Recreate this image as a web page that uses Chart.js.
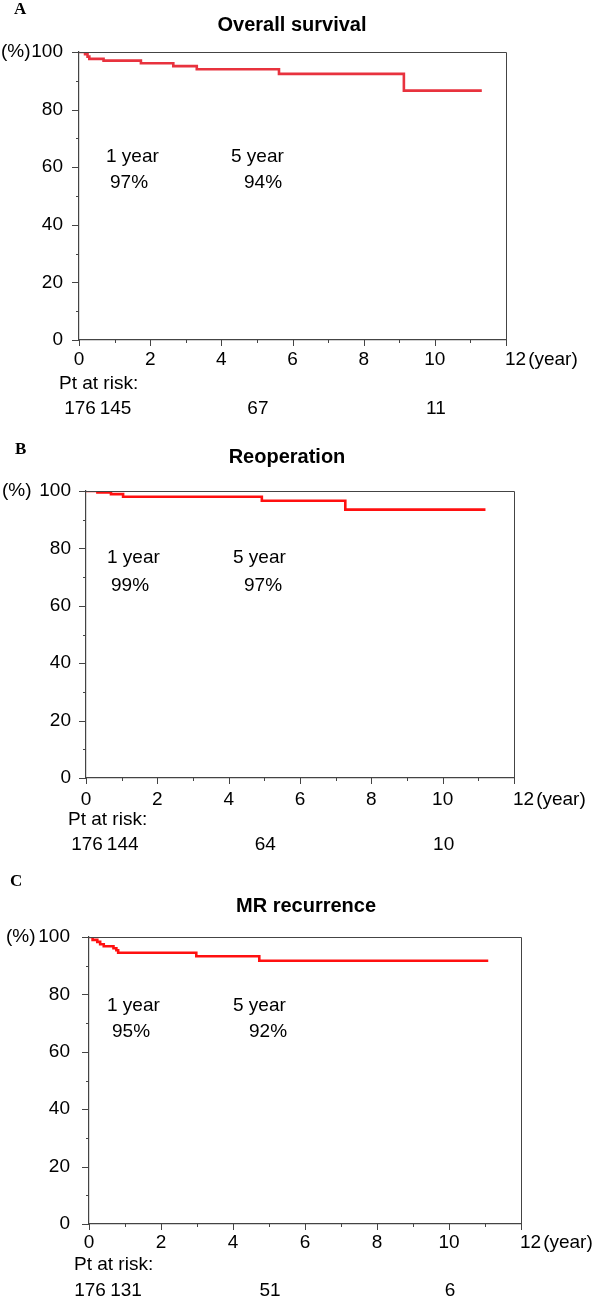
<!DOCTYPE html>
<html>
<head>
<meta charset="utf-8">
<title>Kaplan-Meier curves</title>
<script src="https://cdn.jsdelivr.net/npm/chart.js@4.4.1/dist/chart.umd.min.js"></script>
<style>
  body { margin: 0; background: #fff; }
  canvas { position: absolute; left: 0; }
</style>
</head>
<body>
<canvas id="chartA" width="597" height="435" style="top:0px"></canvas>
<canvas id="chartB" width="597" height="435" style="top:435px"></canvas>
<canvas id="chartC" width="597" height="430" style="top:870px"></canvas>

<script>
// A - overall survival (years, % surviving)
const osYears = [0, 0.17, 0.24, 0.29, 0.69, 1.74, 2.65, 3.31, 5.62, 9.13, 11.32];
const osPct   = [100, 99.2, 98.4, 97.6, 97.0, 96.1, 95.1, 94.0, 92.4, 86.6, 86.6];
const osRisk  = [176, 145, 67, 11];
const osRates = ['97%', '94%'];

// B - freedom from reoperation
const reopYears = [0, 0.32, 0.70, 1.04, 4.93, 7.27, 11.2];
const reopPct   = [100, 99.5, 98.9, 98.0, 96.6, 93.5, 93.5];
const reopRisk  = [176, 144, 64, 10];
const reopRates = ['99%', '97%'];

// C - freedom from MR recurrence
const mrYears = [0, 0.10, 0.23, 0.31, 0.41, 0.68, 0.76, 0.81, 2.98, 4.73, 11.09];
const mrPct   = [100, 99.0, 98.3, 97.5, 96.8, 96.1, 95.4, 94.5, 93.3, 91.7, 91.7];
const mrRisk  = [176, 131, 51, 6];
const mrRates = ['95%', '92%'];

const riskYears = [0, 1, 5, 10];
const landmarks = ['1 year', '5 year'];
const yTicks = [0, 20, 40, 60, 80, 100];
const xTicks = [0, 2, 4, 6, 8, 10, 12];

const FONT = '"Liberation Sans", Arial, Helvetica, sans-serif';
const AXIS = '#444';
const INK = '#000';

Chart.defaults.font.family = FONT;
Chart.defaults.font.size = 19;
Chart.defaults.color = INK;

const panels = [
  { id: 'chartA', h: 435, letter: 'A', title: 'Overall survival', color: '#e8323e',
    years: osYears, pct: osPct, risk: osRisk, rates: osRates,
    area: { left: 79, right: 506, top: 52, bottom: 340 },
    letterX: 14, letterY: 10, titleX: 292, titleY: 25, pctX: 1, yPad: 9, xPad: 1,
    note1X: 106, note1bX: 110, note5X: 231, note5bX: 244, noteY: 157, noteBY: 183,
    ptX: 59, ptY: 384, riskY: 409 },
  { id: 'chartB', h: 435, letter: 'B', title: 'Reoperation', color: '#ff1010',
    years: reopYears, pct: reopPct, risk: reopRisk, rates: reopRates,
    area: { left: 86, right: 514, top: 56, bottom: 343 },
    letterX: 15, letterY: 15, titleX: 287, titleY: 22, pctX: 2, yPad: 8, xPad: 3,
    note1X: 107, note1bX: 111, note5X: 233, note5bX: 244, noteY: 123, noteBY: 151,
    ptX: 68, ptY: 385, riskY: 410 },
  { id: 'chartC', h: 430, letter: 'C', title: 'MR recurrence', color: '#ff1010',
    years: mrYears, pct: mrPct, risk: mrRisk, rates: mrRates,
    area: { left: 89, right: 521, top: 67, bottom: 354 },
    letterX: 10, letterY: 12, titleX: 306, titleY: 36, pctX: 6, yPad: 12, xPad: 0,
    note1X: 107, note1bX: 112, note5X: 233, note5bX: 249, noteY: 136, noteBY: 162,
    ptX: 74, ptY: 395, riskY: 421 }
];

function panelPlugin(p) {
  return {
    id: 'panelText',
    afterDraw(chart) {
      const ctx = chart.ctx, a = chart.chartArea;
      const xs = chart.scales.x, ys = chart.scales.y;
      ctx.save();
      ctx.strokeStyle = AXIS;
      ctx.lineWidth = 1;
      ctx.beginPath();
      ctx.moveTo(a.left, a.top + 0.5);
      ctx.lineTo(a.right + 0.5, a.top + 0.5);
      ctx.lineTo(a.right + 0.5, a.bottom);
      // tick marks, long on labelled values
      ys.ticks.forEach(t => {
        const y = Math.round(ys.getPixelForValue(t.value)) + 0.5;
        const len = t.value % 20 === 0 ? 7 : 3;
        ctx.moveTo(a.left - len, y);
        ctx.lineTo(a.left, y);
      });
      xs.ticks.forEach(t => {
        const x = Math.round(xs.getPixelForValue(t.value)) + 0.5;
        const len = t.value % 2 === 0 ? 6 : 3;
        ctx.moveTo(x, a.bottom);
        ctx.lineTo(x, a.bottom + len);
      });
      ctx.stroke();

      ctx.fillStyle = INK;
      ctx.textBaseline = 'middle';
      ctx.textAlign = 'left';

      // panel letter and title
      ctx.font = 'bold 17px "Liberation Serif", "Times New Roman", serif';
      ctx.fillText(p.letter, p.letterX, p.letterY);
      ctx.font = 'bold 20px ' + FONT;
      ctx.textAlign = 'center';
      ctx.fillText(p.title, p.titleX, p.titleY);

      ctx.font = '19px ' + FONT;
      ctx.textAlign = 'left';
      ctx.fillText('(%)', p.pctX, ys.getPixelForValue(100));

      // last x label with unit
      const x12 = xs.getPixelForValue(12);
      const yLab = a.bottom + 7 + p.xPad + 11.4;
      ctx.fillText('12', x12 - 1, yLab);
      ctx.fillText('(year)', x12 - 1 + ctx.measureText('12').width + 2, yLab);

      // landmark estimates
      ctx.fillText(landmarks[0], p.note1X, p.noteY);
      ctx.fillText(p.rates[0], p.note1bX, p.noteBY);
      ctx.fillText(landmarks[1], p.note5X, p.noteY);
      ctx.fillText(p.rates[1], p.note5bX, p.noteBY);

      // number at risk
      ctx.fillText('Pt at risk:', p.ptX, p.ptY);
      ctx.textAlign = 'center';
      p.risk.forEach((n, i) => {
        ctx.fillText(String(n), xs.getPixelForValue(riskYears[i]) + 1, p.riskY);
      });
      ctx.restore();
    }
  };
}

panels.forEach(p => {
  const pts = p.years.map((t, i) => ({ x: t, y: p.pct[i] }));
  const xAxisH = 30;
  new Chart(document.getElementById(p.id), {
    type: 'line',
    data: {
      datasets: [{
        data: pts,
        borderColor: p.color,
        borderWidth: 2.6,
        pointRadius: 0,
        stepped: 'before',
        fill: false
      }]
    },
    options: {
      responsive: false,
      animation: false,
      devicePixelRatio: 1,
      events: [],
      layout: {
        padding: { left: 0, top: p.area.top, right: 597 - p.area.right, bottom: p.h - p.area.bottom - xAxisH }
      },
      plugins: { legend: { display: false }, tooltip: { enabled: false } },
      scales: {
        x: {
          type: 'linear', min: 0, max: 12,
          afterFit: s => { s.height = xAxisH; },
          border: { display: true, color: AXIS, width: 1.2 },
          grid: { display: true, drawOnChartArea: false, drawTicks: true, tickLength: 7, color: 'rgba(0,0,0,0)' },
          ticks: {
            stepSize: 1, padding: p.xPad, maxRotation: 0, autoSkip: false,
            callback: v => (xTicks.includes(v) && v !== 12) ? String(v) : ''
          }
        },
        y: {
          min: 0, max: 100,
          afterFit: s => { s.width = p.area.left; },
          border: { display: true, color: AXIS, width: 1.2 },
          grid: { display: true, drawOnChartArea: false, drawTicks: true, tickLength: 7, color: 'rgba(0,0,0,0)' },
          ticks: {
            stepSize: 10, padding: p.yPad, autoSkip: false,
            callback: v => yTicks.includes(v) ? String(v) : ''
          }
        }
      }
    },
    plugins: [panelPlugin(p)]
  });
});
</script>
</body>
</html>
